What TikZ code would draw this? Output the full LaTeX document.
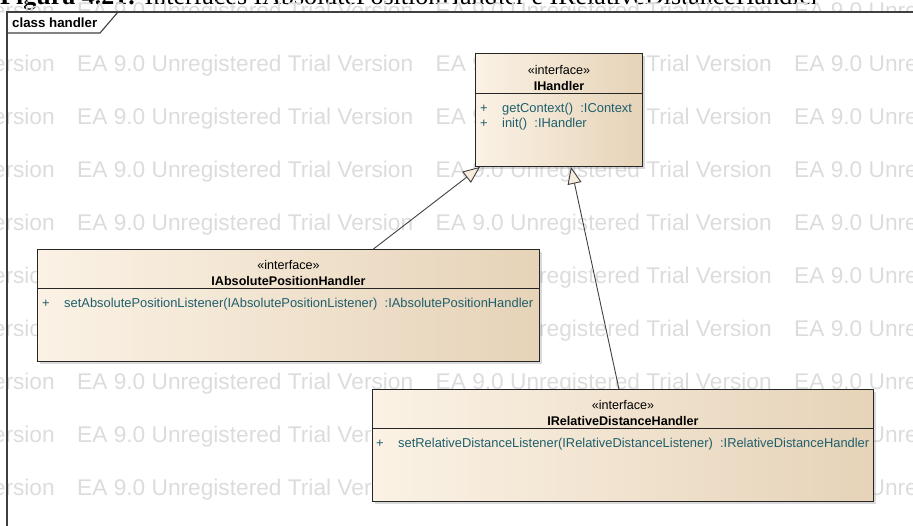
\documentclass[tikz,border=0pt]{standalone}
\usepackage{fontspec}
\setmainfont{Liberation Sans}
\newfontfamily\capfont{Liberation Serif}
\usetikzlibrary{arrows.meta,shadows}

\definecolor{boxleft}{HTML}{FBF2E5}
\definecolor{boxright}{HTML}{E6D3B8}
\definecolor{optext}{HTML}{1F5F6C}
\definecolor{wmgrey}{HTML}{DCDCDC}
\definecolor{tipfill}{HTML}{F8EDDD}

\begin{document}
\begin{tikzpicture}[
  x = 1pt, y = -1pt,
  classbox/.style = {draw = black!85, line width = 0.9pt, inner sep = 0pt,
                     left color = boxleft, right color = boxright,
                     drop shadow = {shadow xshift = 3pt, shadow yshift = -3pt, opacity = 0.3}},
  stereo/.style = {font = \fontsize{12.6}{14}\selectfont, inner sep = 0pt},
  classname/.style = {font = \bfseries\fontsize{12.6}{14}\selectfont, inner sep = 0pt},
  operation/.style = {font = \fontsize{12.9}{14}\selectfont, text = optext, anchor = west, inner sep = 0pt},
  watermark/.style = {font = \fontsize{22.7}{26}\selectfont, text = wmgrey, anchor = base west, inner sep = 0pt},
  caption/.style = {font = \capfont\fontsize{26}{30}\selectfont, anchor = base west, inner sep = 0pt},
  genarrow/.style = {draw = black!75, line width = 0.9pt,
                     -{Triangle[length = 17pt, width = 14pt, fill = tipfill]}},
  ]
  \useasboundingbox (0,0) rectangle (913,525);
  \clip (0,0) rectangle (913,525);

  \node[caption] (fig-caption) at (0,4)
    {\textbf{Figura 4.21:} Interfaces IAbsolutePositionHandler e IRelativeDistanceHandler};

  \begin{scope}
    \clip (0,0) rectangle (913,12);
    \foreach \col in {0,...,3}
      \node[watermark] (wm-0-\col) at (-281.5+358.5*\col,18) {EA 9.0 Unregistered Trial Version};
  \end{scope}
  \foreach \row in {1,...,9}
    \foreach \col in {0,...,3}
      \node[watermark] (wm-\row-\col) at (-281.5+358.5*\col,18+53*\row) {EA 9.0 Unregistered Trial Version};

  % frame
  \draw[black!75, line width = 1.1pt] (7,530) -- (7,12) -- (920,12);
  \draw[black!75, line width = 1.1pt] (7,33) -- (100,33) -- (118,12);
  \node[font = \bfseries\fontsize{13.3}{15}\selectfont, anchor = west, inner sep = 0pt]
    (frame-title) at (12,23) {class handler};

  % IHandler
  \node[classbox, minimum width = 167pt, minimum height = 113pt, anchor = north west]
    (ihandler) at (475,53) {};
  \draw[black!85, line width = 0.9pt] ([yshift=-40pt]ihandler.north west) -- ([yshift=-40pt]ihandler.north east);
  \node[stereo] (ih-stereo) at ([yshift=-17pt]ihandler.north) {«interface»};
  \node[classname] (ih-name) at ([yshift=-33pt]ihandler.north) {IHandler};
  \node[operation] (ih-op1) at ([xshift=5pt, yshift=-56pt]ihandler.north west)
    {\makebox[22pt][l]{+}getContext()\ \ :IContext};
  \node[operation] (ih-op2) at ([xshift=5pt, yshift=-71pt]ihandler.north west)
    {\makebox[22pt][l]{+}init()\ \ :IHandler};

  % IAbsolutePositionHandler
  \node[classbox, minimum width = 502pt, minimum height = 112pt, anchor = north west]
    (abs) at (37,249) {};
  \draw[black!85, line width = 0.9pt] ([yshift=-39pt]abs.north west) -- ([yshift=-39pt]abs.north east);
  \node[stereo] (abs-stereo) at ([yshift=-16pt]abs.north) {«interface»};
  \node[classname] (abs-name) at ([yshift=-32pt]abs.north) {IAbsolutePositionHandler};
  \node[operation] (abs-op1) at ([xshift=5pt, yshift=-55pt]abs.north west)
    {\makebox[22pt][l]{+}setAbsolutePositionListener(IAbsolutePositionListener)\ \ :IAbsolutePositionHandler};

  % IRelativeDistanceHandler
  \node[classbox, minimum width = 501pt, minimum height = 112pt, anchor = north west]
    (rel) at (372,389) {};
  \draw[black!85, line width = 0.9pt] ([yshift=-39pt]rel.north west) -- ([yshift=-39pt]rel.north east);
  \node[stereo] (rel-stereo) at ([yshift=-16pt]rel.north) {«interface»};
  \node[classname] (rel-name) at ([yshift=-32pt]rel.north) {IRelativeDistanceHandler};
  \node[operation] (rel-op1) at ([xshift=4pt, yshift=-55pt]rel.north west)
    {\makebox[22pt][l]{+}setRelativeDistanceListener(IRelativeDistanceListener)\ \ :IRelativeDistanceHandler};

  \draw[genarrow] ([xshift=85pt]abs.north) -- ([xshift=5pt]ihandler.south west);
  \draw[genarrow] ([xshift=-4pt]rel.north) -- ([xshift=12pt]ihandler.south);
\end{tikzpicture}
\end{document}
